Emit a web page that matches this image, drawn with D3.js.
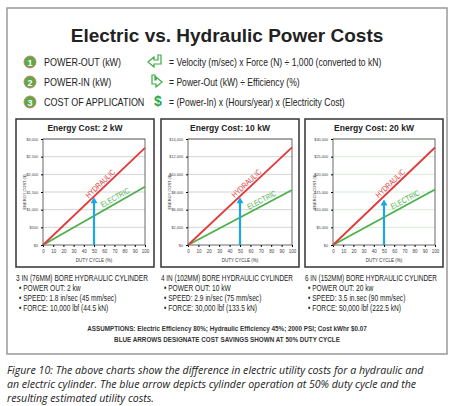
<!DOCTYPE html><html><head><meta charset="utf-8">
<script src="https://cdn.jsdelivr.net/npm/d3@7"></script>
<style>body{margin:0;background:#fff}svg{display:block}</style></head><body>
<script>
const dutyTicks=[0,10,20,30,40,50,60,70,80,90,100];
const panelTitles=["Energy Cost: 2 kW","Energy Cost: 10 kW","Energy Cost: 20 kW"];
const yMax=[3000,14000,30000];
const yTickLabels=[["$0","$500","$1,000","$1,500","$2,000","$2,500","$3,000"],
 ["$0","$2,000","$6,000","$8,000","$10,000","$12,000","$14,000"],
 ["$0","$5,000","$10,000","$15,000","$20,000","$25,000","$30,000"]];
const hydraulicAt100=[2750,12900,27600];
const electricAt100=[1650,7260,15700];
const arrowTop=[1350,6300,12850];
const gridColors=["#c8c8c8","#c8c8c8","#cfe8cf"];
const specs=[["3 IN (76MM) BORE HYDRAULIC CYLINDER","• POWER OUT: 2 kw","• SPEED: 1.8 in/sec (45 mm/sec)","• FORCE: 10,000 lbf (44.5 kN)"],
 ["4 IN (102MM) BORE HYDRAULIC CYLINDER","• POWER OUT: 10 kW","• SPEED: 2.9 in/sec (75 mm/sec)","• FORCE: 30,000 lbf (133.5 kN)"],
 ["6 IN (152MM) BORE HYDRAULIC CYLINDER","• POWER OUT: 20 kw","• SPEED: 3.5 in.sec (90 mm/sec)","• FORCE: 50,000 lbf (222.5 kN)"]];
const formulas=[["1","POWER-OUT (kW)","= Velocity (m/sec) x Force (N) ÷ 1,000 (converted to kN)"],
 ["2","POWER-IN (kW)","= Power-Out (kW) ÷ Efficiency (%)"],
 ["3","COST OF APPLICATION","= (Power-In) x (Hours/year) x (Electricity Cost)"]];
const caption=["Figure 10: The above charts show the difference in electric utility costs for a hydraulic and",
 "an electric cylinder. The blue arrow depicts cylinder operation at 50% duty cycle and the",
 "resulting estimated utility costs."];
const SANS="'Liberation Sans',Arial,sans-serif";
function squeeze(sel,f){sel.each(function(){const w=this.getComputedTextLength();d3.select(this).attr("textLength",w*f).attr("lengthAdjust","spacingAndGlyphs");});return sel;}
const svg=d3.select("body").append("svg").attr("width",454).attr("height",406);
svg.append("rect").attr("x",7).attr("y",8).attr("width",440).attr("height",346).attr("fill","#fff").attr("stroke","#999").attr("stroke-width",1.5);
svg.append("text").attr("x",227).attr("y",42).attr("text-anchor","middle").attr("font-family",SANS).attr("font-weight","bold").attr("font-size",19).attr("fill","#222").text("Electric vs. Hydraulic Power Costs");
formulas.forEach((f,i)=>{const y=62+i*20;
 svg.append("circle").attr("cx",30).attr("cy",y).attr("r",6).attr("fill","#5aa94a").attr("stroke","#e07050").attr("stroke-width",0.8);
 svg.append("text").attr("x",30).attr("y",y+3.5).attr("text-anchor","middle").attr("font-size",9).attr("font-weight","bold").attr("fill","#fff").attr("font-family",SANS).text(f[0]);
 squeeze(svg.append("text").attr("x",44).attr("y",y+4).attr("font-family",SANS).attr("font-size",11.5).attr("fill","#222").text(f[1]),0.78);
 squeeze(svg.append("text").attr("x",169).attr("y",y+4).attr("font-family",SANS).attr("font-size",11).attr("fill","#222").text(f[2]),0.78);
});
svg.append("path").attr("d","M148,62 l6,-5 v3 h4 v-5 h3 v9 h-7 v3 z").attr("fill","none").attr("stroke","#3caa3c").attr("stroke-width",1.2);
svg.append("path").attr("d","M162,82 l-6,5 v-3 h-4 v-9 h3 v5 h1 v-3 z").attr("fill","none").attr("stroke","#3caa3c").attr("stroke-width",1.2);
svg.append("text").attr("x",154).attr("y",106).attr("font-family",SANS).attr("font-weight","bold").attr("font-size",14).attr("fill","#2aa84a").text("$");
const boxes=[{bx:16,l:43,r:145},{bx:161,l:188,r:292},{bx:305,l:333,r:435}];
boxes.forEach((b,i)=>{
 const g=svg.append("g");
 g.append("rect").attr("x",b.bx).attr("y",119).attr("width",138).attr("height",148).attr("fill","#fff").attr("stroke","#333").attr("stroke-width",1.5);
 g.append("text").attr("x",b.bx+69).attr("y",131).attr("text-anchor","middle").attr("font-family",SANS).attr("font-weight","bold").attr("font-size",8.5).attr("fill","#222").text(panelTitles[i]);
 const x=d3.scaleLinear().domain([0,100]).range([b.l,b.r]);
 const y=d3.scaleLinear().domain([0,yMax[i]]).range([245,139]);
 const tv=yTickLabels[i].map((_,k)=>k*yMax[i]/6);
 g.append("g").selectAll("line").data(tv.slice(1)).join("line").attr("x1",b.l).attr("x2",b.r).attr("y1",d=>y(d)).attr("y2",d=>y(d)).attr("stroke",gridColors[i]).attr("stroke-width",0.8);
 g.append("rect").attr("x",b.l).attr("y",139).attr("width",b.r-b.l).attr("height",106).attr("fill","none").attr("stroke","#444").attr("stroke-width",0.8);
 const ya=g.append("g").attr("transform",`translate(${b.l},0)`).call(d3.axisLeft(y).tickValues(tv).tickSize(2).tickFormat((d,k)=>yTickLabels[i][k]));
 ya.select(".domain").remove();
 ya.selectAll("text").attr("font-size",3.8).attr("fill","#444").attr("font-family",SANS);
 const xa=g.append("g").attr("transform","translate(0,245)").call(d3.axisBottom(x).tickValues(dutyTicks).tickSize(2));
 xa.select(".domain").remove();
 xa.selectAll("text").attr("font-size",4.5).attr("fill","#444").attr("font-family",SANS);
 g.append("text").attr("x",(b.l+b.r)/2).attr("y",262).attr("text-anchor","middle").attr("font-size",4.5).attr("fill","#333").attr("font-family",SANS).text("DUTY CYCLE (%)");
 g.append("text").attr("transform",`translate(${b.l-17},192) rotate(-90)`).attr("text-anchor","middle").attr("font-size",4).attr("fill","#333").attr("font-family",SANS).text("ENERGY COST ($)");
 const line=d3.line().x(d=>x(d[0])).y(d=>y(d[1]));
 g.append("path").attr("d",line([[0,0],[100,electricAt100[i]]])).attr("stroke","#4db04a").attr("stroke-width",1.8).attr("fill","none");
 g.append("path").attr("d",line([[0,0],[100,hydraulicAt100[i]]])).attr("stroke","#e03a3a").attr("stroke-width",1.8).attr("fill","none");
 const ang=(v)=>Math.atan2(y(0)-y(v),x(100)-x(0))*180/Math.PI;
 const hx=x(58),hy=y(hydraulicAt100[i]*0.58)-3;
 squeeze(g.append("text").attr("transform",`translate(${hx},${hy}) rotate(${-ang(hydraulicAt100[i])})`).attr("text-anchor","middle").attr("font-family",SANS).attr("font-size",8).attr("fill","#e03a3a").text("HYDRAULIC"),0.8);
 const ex=x(72),ey=y(electricAt100[i]*0.72)-3;
 squeeze(g.append("text").attr("transform",`translate(${ex},${ey}) rotate(${-ang(electricAt100[i])})`).attr("text-anchor","middle").attr("font-family",SANS).attr("font-size",8).attr("fill","#4db04a").text("ELECTRIC"),0.8);
 const ax=x(50),at=y(arrowTop[i]);
 g.append("line").attr("x1",ax).attr("x2",ax).attr("y1",245).attr("y2",at+5).attr("stroke","#1aa7e8").attr("stroke-width",2.2);
 g.append("path").attr("d",`M${ax-3.5},${at+6} L${ax},${at} L${ax+3.5},${at+6} Z`).attr("fill","#1aa7e8");
 specs[i].forEach((s,k)=>{
  const t=svg.append("text").attr("x",b.bx+(k?3:0)).attr("y",281+k*10).attr("font-family",SANS).attr("font-size",k?8.5:9).attr("fill","#222").text(s);
  if(k===0) t.attr("textLength",132).attr("lengthAdjust","spacingAndGlyphs"); else squeeze(t,0.78);
 });
});
svg.append("text").attr("x",227).attr("y",331).attr("text-anchor","middle").attr("font-family",SANS).attr("font-weight","bold").attr("font-size",6.3).attr("fill","#333").text("ASSUMPTIONS: Electric Efficiency 80%; Hydraulic Efficiency 45%; 2000 PSI; Cost kWhr $0.07");
svg.append("text").attr("x",227).attr("y",342).attr("text-anchor","middle").attr("font-family",SANS).attr("font-weight","bold").attr("font-size",6.3).attr("fill","#333").text("BLUE ARROWS DESIGNATE COST SAVINGS SHOWN AT 50% DUTY CYCLE");
caption.forEach((c,k)=>svg.append("text").attr("x",7).attr("y",374+k*14).attr("font-family","'Open Sans',sans-serif").attr("font-style","italic").attr("font-size",10.6).attr("fill","#222").text(c));
</script></body></html>
